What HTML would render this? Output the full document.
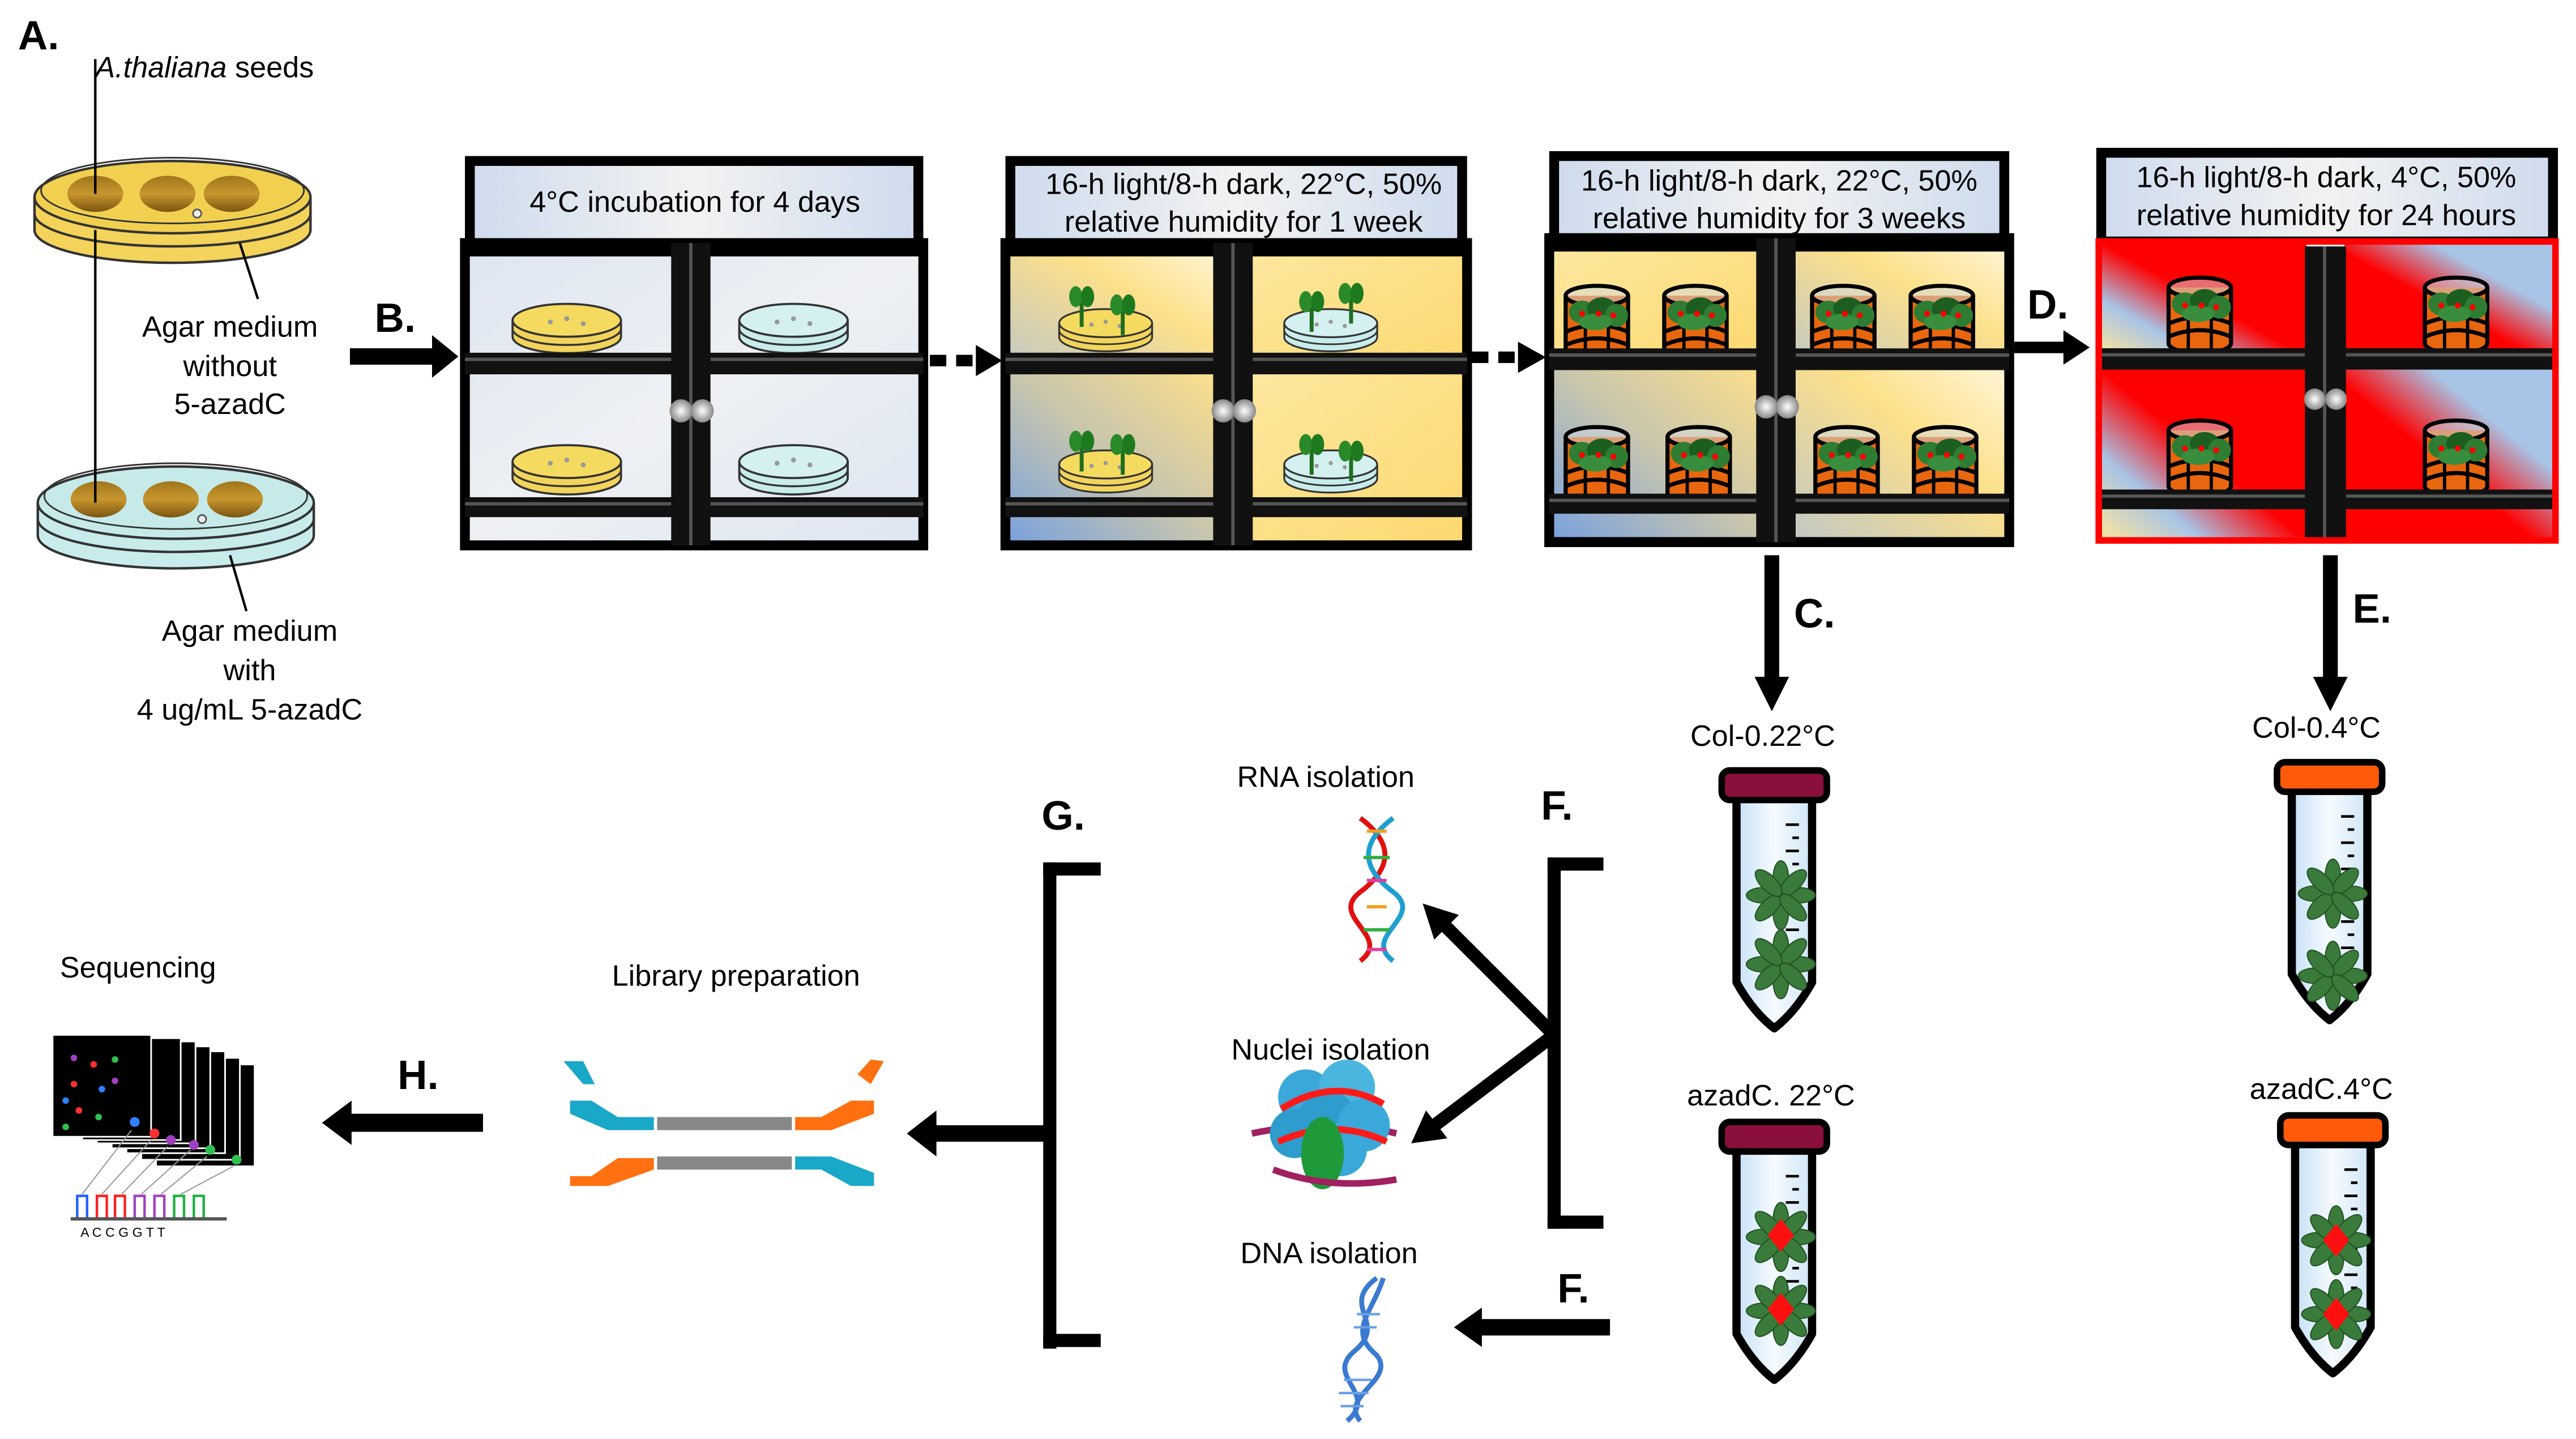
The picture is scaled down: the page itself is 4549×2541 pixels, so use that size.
<!DOCTYPE html>
<html><head><meta charset="utf-8"><style>
html,body{margin:0;padding:0;background:#fff;}
svg{display:block;}
text{font-family:"Liberation Sans",sans-serif;fill:#000;}
.b{font-weight:bold;font-size:25px;}
.t{font-size:18px;}
.h{font-size:18px;}
</style></head><body>
<svg width="4549" height="2541" viewBox="0 0 1568 876" preserveAspectRatio="none" xmlns="http://www.w3.org/2000/svg">
<defs>
<linearGradient id="hdr" x1="0" x2="1"><stop offset="0" stop-color="#cfdcee"/><stop offset="0.5" stop-color="#f2f2f2"/><stop offset="1" stop-color="#cfdcee"/></linearGradient>
<linearGradient id="pale" x1="0" y1="0" x2="1" y2="1"><stop offset="0" stop-color="#dde6f2"/><stop offset="0.5" stop-color="#eef0f3"/><stop offset="1" stop-color="#dde6f2"/></linearGradient>
<linearGradient id="yb1" x1="0" y1="1" x2="1" y2="0"><stop offset="0" stop-color="#c2c8c4"/><stop offset="0.6" stop-color="#fde08a"/><stop offset="1" stop-color="#fff6d8"/></linearGradient>
<linearGradient id="yb2" x1="0" y1="1" x2="1" y2="0"><stop offset="0" stop-color="#7aa2dd"/><stop offset="0.5" stop-color="#c9c6ad"/><stop offset="1" stop-color="#fde08a"/></linearGradient>
<linearGradient id="yb3" x1="0" y1="0" x2="1" y2="1"><stop offset="0" stop-color="#fde8a0"/><stop offset="1" stop-color="#fdd870"/></linearGradient>
<linearGradient id="rl" x1="0" y1="1" x2="1" y2="0"><stop offset="0" stop-color="#ffe79a"/><stop offset="0.25" stop-color="#a8c4e6"/><stop offset="0.5" stop-color="#ff0000"/><stop offset="1" stop-color="#ff0000"/></linearGradient>
<linearGradient id="rr" x1="0" y1="1" x2="1" y2="0"><stop offset="0" stop-color="#ff0000"/><stop offset="0.45" stop-color="#ff0000"/><stop offset="0.7" stop-color="#a8c4e6"/><stop offset="1" stop-color="#a8c4e6"/></linearGradient>
<radialGradient id="knob"><stop offset="0" stop-color="#fff"/><stop offset="1" stop-color="#888"/></radialGradient>
<linearGradient id="tube" x1="0" x2="1"><stop offset="0" stop-color="#c6e0f5"/><stop offset="0.5" stop-color="#f6fbff"/><stop offset="1" stop-color="#cfe5f6"/></linearGradient>
<linearGradient id="seed" x1="0" y1="0" x2="0" y2="1"><stop offset="0" stop-color="#a0761c"/><stop offset="0.5" stop-color="#c8962e"/><stop offset="1" stop-color="#7a5510"/></linearGradient>

<symbol id="frame" viewBox="0 0 280 182" preserveAspectRatio="none" overflow="visible">
<rect x="0" y="0" width="280" height="182" fill="none" stroke="#000" stroke-width="6"/>
<rect x="0" y="0" width="280" height="8" fill="#000"/>
<rect x="0" y="66" width="280" height="13" fill="#111"/><line x1="0" y1="70" x2="280" y2="70" stroke="#555" stroke-width="2"/>
<rect x="0" y="153" width="280" height="12" fill="#111"/><line x1="0" y1="157" x2="280" y2="157" stroke="#555" stroke-width="2"/>
<rect x="126" y="0" width="24" height="182" fill="#111"/><line x1="138" y1="0" x2="138" y2="182" stroke="#555" stroke-width="2"/>
<circle cx="132" cy="101" r="7" fill="url(#knob)"/><circle cx="145" cy="101" r="7" fill="url(#knob)"/>
</symbol>

<symbol id="dishY" viewBox="0 0 70 34" overflow="visible">
<path d="M2,12 L2,22 A33,10 0 0 0 68,22 L68,12" fill="#f2d45c" stroke="#333" stroke-width="1.3"/>
<ellipse cx="35" cy="12" rx="33" ry="10" fill="#f5da60" stroke="#333" stroke-width="1.3"/>
<path d="M2,17 A33,10 0 0 0 68,17" fill="none" stroke="#333" stroke-width="1.2"/>
<circle cx="25" cy="13" r="1.5" fill="#999"/><circle cx="35" cy="11" r="1.5" fill="#999"/><circle cx="45" cy="14" r="1.5" fill="#999"/>
</symbol>
<symbol id="dishC" viewBox="0 0 70 34" overflow="visible">
<path d="M2,12 L2,22 A33,10 0 0 0 68,22 L68,12" fill="#c8ecec" stroke="#333" stroke-width="1.3"/>
<ellipse cx="35" cy="12" rx="33" ry="10" fill="#d4f0f0" stroke="#333" stroke-width="1.3"/>
<path d="M2,17 A33,10 0 0 0 68,17" fill="none" stroke="#333" stroke-width="1.2"/>
<circle cx="25" cy="13" r="1.5" fill="#999"/><circle cx="35" cy="11" r="1.5" fill="#999"/><circle cx="45" cy="14" r="1.5" fill="#999"/>
</symbol>
<symbol id="sprout" viewBox="0 0 20 30" overflow="visible">
<rect x="9" y="8" width="3" height="22" fill="#1e6e1e"/>
<ellipse cx="6" cy="7" rx="5" ry="8" fill="#2a8a2a"/><ellipse cx="15" cy="7" rx="5" ry="8" fill="#1e7a1e"/>
</symbol>
<symbol id="pot" viewBox="0 0 42 50" overflow="visible">
<path d="M2,8 L2,42 A19,6 0 0 0 40,42 L40,8" fill="#e8660e" stroke="#000" stroke-width="2.5"/>
<ellipse cx="21" cy="8" rx="19" ry="6" fill="#cfd9e4" fill-opacity="0.5" stroke="#000" stroke-width="2.5"/>
<path d="M2,30 Q21,22 40,30" fill="none" stroke="#000" stroke-width="2.5"/>
<path d="M2,38 Q21,30 40,38" fill="none" stroke="#000" stroke-width="2.5"/>
<line x1="14" y1="14" x2="14" y2="47" stroke="#000" stroke-width="2"/><line x1="28" y1="14" x2="28" y2="47" stroke="#000" stroke-width="2"/>
<ellipse cx="12" cy="18" rx="8" ry="7" fill="#2e7d32"/><ellipse cx="24" cy="16" rx="9" ry="7" fill="#1b5e20"/><ellipse cx="33" cy="20" rx="7" ry="7" fill="#2e7d32"/><ellipse cx="20" cy="24" rx="10" ry="5" fill="#388e3c"/>
<circle cx="12" cy="19" r="1.8" fill="red"/><circle cx="22" cy="19" r="1.8" fill="red"/><circle cx="31" cy="20" r="1.8" fill="red"/>
</symbol>
<symbol id="rosette" viewBox="-20 -20 40 40" overflow="visible">
<g fill="#3a7a3a" stroke="#1d4d1d" stroke-width="0.6">
<ellipse cx="0" cy="-10" rx="4.5" ry="10"/><ellipse cx="0" cy="10" rx="4.5" ry="10"/><ellipse cx="-10" cy="0" rx="10" ry="4.5"/><ellipse cx="10" cy="0" rx="10" ry="4.5"/>
<ellipse cx="0" cy="-10" rx="4.5" ry="10" transform="rotate(45)"/><ellipse cx="0" cy="10" rx="4.5" ry="10" transform="rotate(45)"/><ellipse cx="0" cy="-10" rx="4.5" ry="10" transform="rotate(-45)"/><ellipse cx="0" cy="10" rx="4.5" ry="10" transform="rotate(-45)"/>
</g>
</symbol>
<symbol id="tubebody" viewBox="0 0 66 170" overflow="visible">
<path d="M10,20 L10,132 Q20,150 33,160 Q46,150 56,132 L56,20 Z" fill="url(#tube)" stroke="#000" stroke-width="5" stroke-linejoin="round"/>
<g stroke="#000" stroke-width="1.6"><line x1="40" y1="36" x2="48" y2="36"/><line x1="44" y1="44" x2="48" y2="44"/><line x1="40" y1="52" x2="48" y2="52"/><line x1="44" y1="60" x2="48" y2="60"/><line x1="40" y1="68" x2="48" y2="68"/><line x1="44" y1="76" x2="48" y2="76"/><line x1="40" y1="84" x2="48" y2="84"/><line x1="44" y1="92" x2="48" y2="92"/><line x1="40" y1="100" x2="48" y2="100"/><line x1="44" y1="108" x2="48" y2="108"/><line x1="40" y1="116" x2="48" y2="116"/></g>
</symbol>
</defs>

<rect width="1568" height="876" fill="#fff"/>

<text x="11" y="30" class="b">A.</text>
<text x="58" y="47" class="t"><tspan font-style="italic">A.thaliana</tspan> seeds</text>
<path d="M21,120 L21,140 A84,20 0 0 0 189,140 L189,120" fill="#f3d35a" stroke="#333" stroke-width="1.5"/>
<ellipse cx="105" cy="120" rx="84" ry="22" fill="#f1d050" stroke="#333" stroke-width="1.5"/>
<path d="M21,130 A84,20 0 0 0 189,130" fill="none" stroke="#333" stroke-width="1.5"/>
<ellipse cx="105" cy="116" rx="80" ry="20" fill="none" stroke="#333" stroke-width="1"/>
<ellipse cx="58" cy="118" rx="17" ry="11" fill="url(#seed)"/><ellipse cx="102" cy="118" rx="17" ry="11" fill="url(#seed)"/><ellipse cx="141" cy="118" rx="17" ry="11" fill="url(#seed)"/>
<circle cx="120" cy="130" r="2.5" fill="#eee" stroke="#555"/>
<path d="M23,306 L23,326 A84,20 0 0 0 191,326 L191,306" fill="#c8ecec" stroke="#333" stroke-width="1.5"/>
<ellipse cx="107" cy="306" rx="84" ry="22" fill="#c6eaea" stroke="#333" stroke-width="1.5"/>
<path d="M23,316 A84,20 0 0 0 191,316" fill="none" stroke="#333" stroke-width="1.5"/>
<ellipse cx="107" cy="302" rx="80" ry="20" fill="none" stroke="#333" stroke-width="1"/>
<ellipse cx="60" cy="304" rx="17" ry="11" fill="url(#seed)"/><ellipse cx="104" cy="304" rx="17" ry="11" fill="url(#seed)"/><ellipse cx="143" cy="304" rx="17" ry="11" fill="url(#seed)"/>
<circle cx="123" cy="316" r="2.5" fill="#eee" stroke="#555"/>
<line x1="58" y1="36" x2="58" y2="118" stroke="#000" stroke-width="1.5"/>
<line x1="58" y1="140" x2="58" y2="306" stroke="#000" stroke-width="1.5"/>
<line x1="146" y1="148" x2="157" y2="182" stroke="#000" stroke-width="1.5"/>
<line x1="140" y1="338" x2="150" y2="372" stroke="#000" stroke-width="1.5"/>
<text x="140" y="205" class="t" text-anchor="middle">Agar medium</text>
<text x="140" y="229" class="t" text-anchor="middle">without</text>
<text x="140" y="252" class="t" text-anchor="middle">5-azadC</text>
<text x="152" y="390" class="t" text-anchor="middle">Agar medium</text>
<text x="152" y="414" class="t" text-anchor="middle">with</text>
<text x="152" y="438" class="t" text-anchor="middle">4 ug/mL 5-azadC</text>

<text x="228" y="202" class="b">B.</text>
<rect x="213" y="212" width="52" height="10" fill="#000"/><polygon points="263,204 279,217 263,230" fill="#000"/>

<rect x="283" y="95" width="279" height="55" fill="#000"/><rect x="289" y="101" width="267" height="46" fill="url(#hdr)"/>
<text x="423" y="129" class="h" text-anchor="middle">4°C incubation for 4 days</text>
<rect x="286" y="150" width="273" height="180" fill="url(#pale)"/>
<use href="#dishY" x="310" y="183" width="70" height="34"/>
<use href="#dishC" x="448" y="183" width="70" height="34"/>
<use href="#dishY" x="310" y="269" width="70" height="34"/>
<use href="#dishC" x="448" y="269" width="70" height="34"/>
<use href="#frame" x="283" y="148" width="279" height="184"/>

<rect x="566" y="216" width="10" height="7" fill="#000"/><rect x="582" y="216" width="10" height="7" fill="#000"/><polygon points="594,210 610,219.5 594,229" fill="#000"/>

<rect x="612" y="95" width="281" height="55" fill="#000"/><rect x="618" y="101" width="269" height="46" fill="url(#hdr)"/>
<text x="757" y="118" class="h" text-anchor="middle">16-h light/8-h dark, 22°C, 50%</text>
<text x="757" y="141" class="h" text-anchor="middle">relative humidity for 1 week</text>
<rect x="615" y="150" width="127" height="75" fill="url(#yb1)"/>
<rect x="760" y="150" width="130" height="75" fill="url(#yb3)"/>
<rect x="615" y="225" width="127" height="105" fill="url(#yb2)"/>
<rect x="760" y="225" width="130" height="105" fill="url(#yb3)"/>
<use href="#dishY" x="643" y="186" width="60" height="30"/><use href="#dishC" x="780" y="186" width="60" height="30"/>
<use href="#dishY" x="643" y="272" width="60" height="30"/><use href="#dishC" x="780" y="272" width="60" height="30"/>
<use href="#sprout" x="650" y="174" width="16" height="26"/><use href="#sprout" x="675" y="179" width="16" height="26"/>
<use href="#sprout" x="790" y="177" width="16" height="26"/><use href="#sprout" x="814" y="172" width="16" height="26"/>
<use href="#sprout" x="650" y="262" width="16" height="26"/><use href="#sprout" x="675" y="264" width="16" height="26"/>
<use href="#sprout" x="790" y="264" width="16" height="26"/><use href="#sprout" x="814" y="268" width="16" height="26"/>
<use href="#frame" x="612" y="148" width="281" height="184"/>

<rect x="896" y="214" width="10" height="7" fill="#000"/><rect x="912" y="214" width="10" height="7" fill="#000"/><polygon points="924,208 941,217.5 924,227" fill="#000"/>

<rect x="943" y="92" width="280" height="55" fill="#000"/><rect x="949" y="98" width="268" height="46" fill="url(#hdr)"/>
<text x="1083" y="116" class="h" text-anchor="middle">16-h light/8-h dark, 22°C, 50%</text>
<text x="1083" y="139" class="h" text-anchor="middle">relative humidity for 3 weeks</text>
<rect x="946" y="147" width="127" height="75" fill="url(#yb3)"/>
<rect x="1090" y="147" width="130" height="75" fill="url(#yb1)"/>
<rect x="946" y="222" width="127" height="106" fill="url(#yb2)"/>
<rect x="1090" y="222" width="130" height="106" fill="url(#yb1)"/>
<use href="#pot" x="950" y="172" width="44" height="50"/><use href="#pot" x="1010" y="172" width="44" height="50"/>
<use href="#pot" x="1100" y="172" width="44" height="50"/><use href="#pot" x="1160" y="172" width="44" height="50"/>
<use href="#pot" x="950" y="258" width="44" height="50"/><use href="#pot" x="1012" y="258" width="44" height="50"/>
<use href="#pot" x="1102" y="258" width="44" height="50"/><use href="#pot" x="1162" y="258" width="44" height="50"/>
<use href="#frame" x="943" y="145" width="280" height="185"/>

<text x="1234" y="194" class="b">D.</text>
<rect x="1226" y="208" width="32" height="7" fill="#000"/><polygon points="1256,201 1272,211.5 1256,222" fill="#000"/>

<rect x="1276" y="90" width="281" height="57" fill="#000"/><rect x="1282" y="96" width="269" height="48" fill="url(#hdr)"/>
<text x="1416" y="114" class="h" text-anchor="middle">16-h light/8-h dark, 4°C, 50%</text>
<text x="1416" y="137" class="h" text-anchor="middle">relative humidity for 24 hours</text>
<rect x="1278" y="147" width="126" height="70" fill="url(#rl)"/>
<rect x="1427" y="147" width="128" height="70" fill="url(#rr)"/>
<rect x="1278" y="224" width="126" height="105" fill="url(#rl)"/>
<rect x="1427" y="224" width="128" height="105" fill="url(#rr)"/>
<use href="#pot" x="1317" y="167" width="44" height="50"/><use href="#pot" x="1473" y="167" width="44" height="50"/>
<use href="#pot" x="1317" y="254" width="44" height="50"/><use href="#pot" x="1473" y="254" width="44" height="50"/>
<rect x="1278" y="212" width="277" height="13" fill="#111"/><line x1="1278" y1="216" x2="1555" y2="216" stroke="#555" stroke-width="2"/>
<rect x="1278" y="298" width="277" height="12" fill="#111"/><line x1="1278" y1="302" x2="1555" y2="302" stroke="#555" stroke-width="2"/>
<rect x="1403" y="150" width="25" height="178" fill="#111"/><line x1="1415" y1="150" x2="1415" y2="328" stroke="#555" stroke-width="2"/>
<circle cx="1409" cy="243" r="6.5" fill="url(#knob)"/><circle cx="1422" cy="243" r="6.5" fill="url(#knob)"/>
<rect x="1277.5" y="147" width="278" height="182" fill="none" stroke="#ff0000" stroke-width="4"/>

<rect x="1074" y="338" width="9" height="76" fill="#000"/><polygon points="1068,412 1089,412 1078.5,433" fill="#000"/>
<text x="1092" y="382" class="b">C.</text>
<rect x="1414" y="338" width="9" height="76" fill="#000"/><polygon points="1408,412 1429,412 1418.5,433" fill="#000"/>
<text x="1432" y="379" class="b">E.</text>

<text x="1073" y="454" class="t" text-anchor="middle">Col-0.22°C</text>
<text x="1410" y="449" class="t" text-anchor="middle">Col-0.4°C</text>
<text x="1078" y="673" class="t" text-anchor="middle">azadC. 22°C</text>
<text x="1413" y="669" class="t" text-anchor="middle">azadC.4°C</text>

<g transform="translate(1047,466)">
<use href="#tubebody" x="0" y="0" width="66" height="170"/>
<use href="#rosette" x="16" y="58" width="42" height="42"/><use href="#rosette" x="16" y="100" width="42" height="42"/>
<rect x="1" y="3" width="64" height="18" rx="5" fill="#8a0f3c" stroke="#000" stroke-width="4"/>
</g>
<g transform="translate(1047,680)">
<use href="#tubebody" x="0" y="0" width="66" height="170"/>
<use href="#rosette" x="16" y="52" width="42" height="42"/><use href="#rosette" x="16" y="97" width="42" height="42"/>
<polygon points="37,62 45,72 37,82 29,72" fill="#ff1010"/><polygon points="37,107 45,117 37,127 29,117" fill="#ff1010"/>
<rect x="1" y="3" width="64" height="18" rx="5" fill="#8a0f3c" stroke="#000" stroke-width="4"/>
</g>
<g transform="translate(1385,461)">
<use href="#tubebody" x="0" y="0" width="66" height="170"/>
<use href="#rosette" x="14" y="62" width="42" height="42"/><use href="#rosette" x="14" y="112" width="42" height="42"/>
<rect x="1" y="3" width="64" height="18" rx="5" fill="#ff5a0a" stroke="#000" stroke-width="4"/>
</g>
<g transform="translate(1387,676)">
<use href="#tubebody" x="0" y="0" width="66" height="170"/>
<use href="#rosette" x="14" y="58" width="42" height="42"/><use href="#rosette" x="14" y="103" width="42" height="42"/>
<polygon points="35,69 43,79 35,89 27,79" fill="#ff1010"/><polygon points="35,114 43,124 35,134 27,124" fill="#ff1010"/>
<rect x="1" y="3" width="64" height="18" rx="5" fill="#ff5a0a" stroke="#000" stroke-width="4"/>
</g>

<text x="938" y="499" class="b">F.</text>
<rect x="942" y="522" width="8" height="226" fill="#000"/>
<rect x="942" y="522" width="34" height="8" fill="#000"/><rect x="942" y="740" width="34" height="8" fill="#000"/>
<line x1="946" y1="630" x2="878" y2="562" stroke="#000" stroke-width="8"/><polygon points="866,550 888,557 873,572" fill="#000"/>
<line x1="946" y1="630" x2="872" y2="686" stroke="#000" stroke-width="8"/><polygon points="859,696 868,676 881,693" fill="#000"/>
<text x="948" y="793" class="b">F.</text>
<rect x="900" y="803" width="80" height="10" fill="#000"/><polygon points="902,796 885,808 902,820" fill="#000"/>

<text x="807" y="479" class="t" text-anchor="middle">RNA isolation</text>
<g stroke-width="3" fill="none">
<path d="M828,498 C848,513 848,528 828,543 C808,558 848,570 828,585" stroke="#e01010"/>
<path d="M848,498 C828,513 828,528 848,543 C868,558 828,570 848,585" stroke="#1fa0d0"/>
</g>
<g stroke-width="2"><line x1="832" y1="506" x2="844" y2="506" stroke="#f0a020"/><line x1="830" y1="522" x2="846" y2="522" stroke="#30b040"/><line x1="832" y1="536" x2="844" y2="536" stroke="#e040a0"/><line x1="832" y1="552" x2="844" y2="552" stroke="#f0a020"/><line x1="830" y1="566" x2="846" y2="566" stroke="#30b040"/><line x1="832" y1="578" x2="844" y2="578" stroke="#e040a0"/></g>

<text x="810" y="645" class="t" text-anchor="middle">Nuclei isolation</text>
<g>
<path d="M762,690 Q810,680 850,690" stroke="#a02060" stroke-width="4" fill="none"/>
<circle cx="795" cy="668" r="17" fill="#3aa8d8"/><circle cx="820" cy="662" r="17" fill="#4ab6e0"/><circle cx="808" cy="682" r="18" fill="#2e9ccc"/><circle cx="830" cy="685" r="16" fill="#3aa8d8"/><circle cx="788" cy="690" r="15" fill="#2e9ccc"/><circle cx="816" cy="700" r="16" fill="#3aa8d8"/>
<path d="M780,675 Q812,655 842,672 M778,695 Q812,680 844,695" stroke="#ff1a1a" stroke-width="4" fill="none"/>
<ellipse cx="805" cy="702" rx="13" ry="22" fill="#1f9a3a"/>
<path d="M775,712 Q810,725 850,718" stroke="#a02060" stroke-width="4" fill="none"/>
</g>

<text x="809" y="769" class="t" text-anchor="middle">DNA isolation</text>
<g stroke="#3a7ad0" fill="none" stroke-width="3">
<path d="M838,778 C815,795 845,805 825,822 C805,838 840,848 820,865"/>
<path d="M842,778 C835,800 820,810 838,825 C850,840 815,850 828,865"/>
</g>
<g stroke="#6aa0e8" stroke-width="1.5"><line x1="826" y1="800" x2="840" y2="800"/><line x1="824" y1="808" x2="838" y2="808"/><line x1="818" y1="840" x2="835" y2="840"/><line x1="815" y1="848" x2="833" y2="848"/><line x1="816" y1="856" x2="830" y2="856"/></g>

<text x="634" y="505" class="b">G.</text>
<rect x="635" y="525" width="8" height="296" fill="#000"/>
<rect x="635" y="525" width="35" height="8" fill="#000"/><rect x="635" y="812" width="35" height="8" fill="#000"/>
<rect x="568" y="685" width="72" height="10" fill="#000"/><polygon points="570,676 552,690 570,704" fill="#000"/>

<text x="448" y="600" class="t" text-anchor="middle">Library preparation</text>
<g>
<path d="M343,646 L355,646 L362,660 L355,660 Z" fill="#1aa8c8"/>
<path d="M538,646 L530,660 L522,654 L530,645 Z" fill="#ff7010"/>
<path d="M347,670 L360,670 L376,680 L398,680 L398,688 L370,688 L347,678 Z" fill="#1aa8c8"/>
<rect x="400" y="680" width="82" height="8" fill="#888"/>
<path d="M484,680 L500,680 L518,670 L532,670 L532,678 L506,688 L484,688 Z" fill="#ff7010"/>
<path d="M347,716 L360,716 L376,705 L398,705 L398,712 L370,722 L347,722 Z" fill="#ff7010"/>
<rect x="400" y="704" width="82" height="8" fill="#888"/>
<path d="M484,704 L506,704 L532,714 L532,722 L518,722 L500,712 L484,712 Z" fill="#1aa8c8"/>
</g>

<text x="242" y="663" class="b">H.</text>
<rect x="212" y="678" width="82" height="11" fill="#000"/><polygon points="214,670 196,683.5 214,697" fill="#000"/>

<text x="84" y="595" class="t" text-anchor="middle">Sequencing</text>
<g stroke="#fff" stroke-width="1">
<rect x="95" y="648" width="60" height="62" fill="#000"/>
<rect x="86" y="644" width="60" height="62" fill="#000"/>
<rect x="77" y="640" width="60" height="62" fill="#000"/>
<rect x="68" y="637" width="60" height="62" fill="#000"/>
<rect x="59" y="634" width="60" height="62" fill="#000"/>
<rect x="50" y="632" width="60" height="62" fill="#000"/>
<rect x="32" y="630" width="60" height="62" fill="#000"/>
</g>
<circle cx="45" cy="644" r="2" fill="#a040c0"/><circle cx="57" cy="648" r="2" fill="#ff3030"/><circle cx="70" cy="645" r="2" fill="#30c050"/><circle cx="45" cy="660" r="2" fill="#ff3030"/><circle cx="40" cy="670" r="2" fill="#3080ff"/><circle cx="62" cy="663" r="2" fill="#3080ff"/><circle cx="70" cy="658" r="2" fill="#a040c0"/><circle cx="48" cy="676" r="2" fill="#ff3030"/><circle cx="60" cy="680" r="2" fill="#30c050"/><circle cx="40" cy="686" r="2" fill="#30c050"/>
<circle cx="82" cy="683" r="3" fill="#3080ff"/><circle cx="94" cy="690" r="3" fill="#ff3030"/><circle cx="104" cy="694" r="3" fill="#a040c0"/><circle cx="118" cy="697" r="3" fill="#a040c0"/><circle cx="128" cy="700" r="3" fill="#30c050"/><circle cx="144" cy="706" r="3" fill="#30c050"/>
<g stroke="#999" stroke-width="0.7"><line x1="80" y1="688" x2="50" y2="727"/><line x1="92" y1="694" x2="62" y2="727"/><line x1="102" y1="698" x2="74" y2="727"/><line x1="116" y1="700" x2="86" y2="727"/><line x1="126" y1="704" x2="98" y2="727"/><line x1="142" y1="710" x2="110" y2="727"/></g>
<g fill="none" stroke-width="1.5">
<path d="M47,742 L47,728 L53,728 L53,742" stroke="#2060ff"/><path d="M59,742 L59,728 L65,728 L65,742" stroke="#ff2020"/><path d="M70,742 L70,728 L76,728 L76,742" stroke="#ff2020"/><path d="M82,742 L82,728 L88,728 L88,742" stroke="#a040c0"/><path d="M94,742 L94,728 L100,728 L100,742" stroke="#a040c0"/><path d="M106,742 L106,728 L112,728 L112,742" stroke="#20b040"/><path d="M118,742 L118,728 L124,728 L124,742" stroke="#20b040"/>
</g>
<line x1="43" y1="742" x2="138" y2="742" stroke="#555" stroke-width="2"/>
<text x="49" y="753" font-size="8" font-family="Liberation Sans, sans-serif">A  C  C  G  G  T  T</text>
</svg>
</body></html>
